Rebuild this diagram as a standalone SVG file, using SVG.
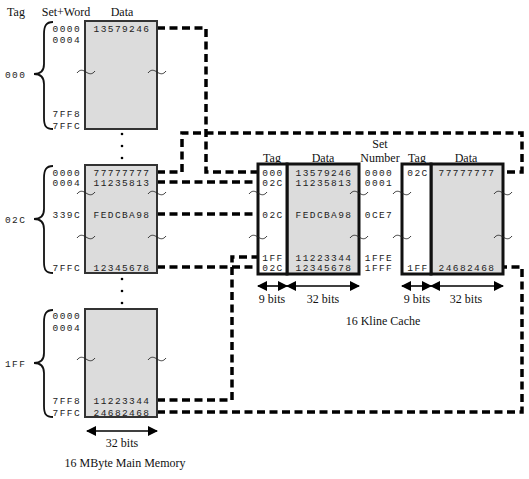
<svg xmlns="http://www.w3.org/2000/svg" width="529" height="479" viewBox="0 0 529 479">
<style>
.hex{font-family:"Liberation Mono","DejaVu Sans Mono",monospace;font-size:9.5px;letter-spacing:1.4px;fill:#222}
.lbl{font-family:"Liberation Serif","Times New Roman",serif;font-size:12px;fill:#111}
.mem{fill:#dcdcdc;stroke:#333;stroke-width:2}
.ctag{fill:#fff;stroke:#111;stroke-width:3}
.cdat{fill:#dcdcdc;stroke:#111;stroke-width:3}
.dash{fill:none;stroke:#000;stroke-width:3.5;stroke-dasharray:8 4.5}
.brace{fill:none;stroke:#111;stroke-width:1.8}
.til{fill:none;stroke:#222;stroke-width:0.9}
.arr{stroke:#000;stroke-width:1.6;marker-start:url(#ah);marker-end:url(#ah)}
</style>
<defs>
<marker id="ah" viewBox="0 0 10 10" refX="9" refY="5" markerWidth="10" markerHeight="10" markerUnits="userSpaceOnUse" orient="auto-start-reverse">
<path d="M0,0 L10,5 L0,10 z" fill="#000"/>
</marker>
<path id="tl" class="til" d="M-9,1 C-6,-3 -3,-2 0,0 S6,3 9,-1"/>
</defs>

<g id="headers">
<text class="lbl" x="16" y="16" text-anchor="middle">Tag</text>
<text class="lbl" x="66" y="16" text-anchor="middle">Set+Word</text>
<text class="lbl" x="122" y="16" text-anchor="middle">Data</text>
</g>

<g id="connectors">
<path class="dash" d="M157,28 H206 V172 H258"/>
<path class="dash" d="M157,172 H182 V133 H522 V172 H503"/>
<path class="dash" d="M157,182 H258"/>
<path class="dash" d="M157,214 H258"/>
<path class="dash" d="M157,267 H258"/>
<path class="dash" d="M157,400 H232 V257 H258"/>
<path class="dash" d="M157,412 H522 V267 H503"/>
</g>

<g id="mem-block-000">
<rect class="mem" x="85" y="21" width="72" height="108"/>
<path class="brace" d="M53,22 C46,22 44,26 44,34 L44,64 C44,70 41,74 34,74 C41,74 44,78 44,84 L44,118 C44,126 46,129 53,129"/>
<text class="hex" x="5" y="78">000</text>
<text class="hex" x="81" y="31.5" text-anchor="end">0000</text>
<text class="hex" x="81" y="42.5" text-anchor="end">0004</text>
<text class="hex" x="81" y="117" text-anchor="end">7FF8</text>
<text class="hex" x="81" y="129" text-anchor="end">7FFC</text>
<text class="hex" x="122" y="31.5" text-anchor="middle">13579246</text>
<use href="#tl" x="86" y="72"/>
<use href="#tl" x="157" y="72"/>
</g>

<g id="dots">
<circle cx="122" cy="134" r="1.3"/>
<circle cx="122" cy="146" r="1.3"/>
<circle cx="122" cy="158" r="1.3"/>
<circle cx="122" cy="279" r="1.3"/>
<circle cx="122" cy="291" r="1.3"/>
<circle cx="122" cy="303" r="1.3"/>
</g>

<g id="mem-block-02C">
<rect class="mem" x="85" y="165" width="72" height="108"/>
<path class="brace" d="M53,166 C46,166 44,170 44,178 L44,209 C44,215 41,219 34,219 C41,219 44,223 44,229 L44,262 C44,270 46,273 53,273"/>
<text class="hex" x="5" y="223">02C</text>
<text class="hex" x="81" y="175.5" text-anchor="end">0000</text>
<text class="hex" x="81" y="185.5" text-anchor="end">0004</text>
<text class="hex" x="81" y="217.5" text-anchor="end">339C</text>
<text class="hex" x="81" y="270.5" text-anchor="end">7FFC</text>
<text class="hex" x="122" y="175.5" text-anchor="middle">77777777</text>
<text class="hex" x="122" y="185.5" text-anchor="middle">11235813</text>
<text class="hex" x="122" y="217.5" text-anchor="middle">FEDCBA98</text>
<text class="hex" x="122" y="270.5" text-anchor="middle">12345678</text>
<use href="#tl" x="86" y="193"/>
<use href="#tl" x="157" y="193"/>
<use href="#tl" x="86" y="237"/>
<use href="#tl" x="157" y="237"/>
</g>

<g id="mem-block-1FF">
<rect class="mem" x="85" y="309" width="72" height="108"/>
<path class="brace" d="M53,310 C46,310 44,314 44,322 L44,353 C44,359 41,363 34,363 C41,363 44,367 44,373 L44,406 C44,414 46,417 53,417"/>
<text class="hex" x="5" y="367">1FF</text>
<text class="hex" x="81" y="318.5" text-anchor="end">0000</text>
<text class="hex" x="81" y="330.5" text-anchor="end">0004</text>
<text class="hex" x="81" y="403.5" text-anchor="end">7FF8</text>
<text class="hex" x="81" y="415.5" text-anchor="end">7FFC</text>
<text class="hex" x="122" y="403.5" text-anchor="middle">11223344</text>
<text class="hex" x="122" y="415.5" text-anchor="middle">24682468</text>
<use href="#tl" x="86" y="359"/>
<use href="#tl" x="157" y="359"/>
</g>

<g id="mem-caption">
<line class="arr" x1="87" y1="431" x2="157" y2="431"/>
<text class="lbl" x="122" y="447" text-anchor="middle">32 bits</text>
<text class="lbl" x="125" y="467" text-anchor="middle">16 MByte Main Memory</text>
</g>

<g id="cache-way-1">
<rect class="cdat" x="287" y="164" width="72" height="110"/>
<rect class="ctag" x="258" y="164" width="29" height="110"/>
<text class="lbl" x="272" y="161.5" text-anchor="middle">Tag</text>
<text class="lbl" x="323" y="161.5" text-anchor="middle">Data</text>
<text class="hex" x="273" y="175.5" text-anchor="middle">000</text>
<text class="hex" x="273" y="185.5" text-anchor="middle">02C</text>
<text class="hex" x="273" y="217.5" text-anchor="middle">02C</text>
<text class="hex" x="273" y="260.5" text-anchor="middle">1FF</text>
<text class="hex" x="273" y="270.5" text-anchor="middle">02C</text>
<text class="hex" x="324" y="175.5" text-anchor="middle">13579246</text>
<text class="hex" x="324" y="185.5" text-anchor="middle">11235813</text>
<text class="hex" x="324" y="217.5" text-anchor="middle">FEDCBA98</text>
<text class="hex" x="324" y="260.5" text-anchor="middle">11223344</text>
<text class="hex" x="324" y="270.5" text-anchor="middle">12345678</text>
<use href="#tl" x="258" y="193"/>
<use href="#tl" x="359" y="193"/>
<use href="#tl" x="258" y="237"/>
<use href="#tl" x="359" y="237"/>
<line class="arr" x1="258" y1="286" x2="287" y2="286"/>
<line class="arr" x1="287" y1="286" x2="359" y2="286"/>
<text class="lbl" x="272" y="303" text-anchor="middle">9 bits</text>
<text class="lbl" x="323" y="303" text-anchor="middle">32 bits</text>
</g>

<g id="set-number">
<text class="lbl" x="380" y="147.5" text-anchor="middle">Set</text>
<text class="lbl" x="380" y="162" text-anchor="middle">Number</text>
<text class="hex" x="379" y="175.5" text-anchor="middle">0000</text>
<text class="hex" x="379" y="185.5" text-anchor="middle">0001</text>
<text class="hex" x="379" y="217.5" text-anchor="middle">0CE7</text>
<text class="hex" x="379" y="260.5" text-anchor="middle">1FFE</text>
<text class="hex" x="379" y="270.5" text-anchor="middle">1FFF</text>
</g>

<g id="cache-way-2">
<rect class="cdat" x="431" y="164" width="72" height="110"/>
<rect class="ctag" x="402" y="164" width="29" height="110"/>
<text class="lbl" x="417" y="161.5" text-anchor="middle">Tag</text>
<text class="lbl" x="466" y="161.5" text-anchor="middle">Data</text>
<text class="hex" x="418" y="175.5" text-anchor="middle">02C</text>
<text class="hex" x="467" y="175.5" text-anchor="middle">77777777</text>
<text class="hex" x="418" y="270.5" text-anchor="middle">1FF</text>
<text class="hex" x="467" y="270.5" text-anchor="middle">24682468</text>
<use href="#tl" x="402" y="193"/>
<use href="#tl" x="503" y="193"/>
<use href="#tl" x="402" y="237"/>
<use href="#tl" x="503" y="237"/>
<line class="arr" x1="402" y1="286" x2="431" y2="286"/>
<line class="arr" x1="431" y1="286" x2="503" y2="286"/>
<text class="lbl" x="417" y="303" text-anchor="middle">9 bits</text>
<text class="lbl" x="466" y="303" text-anchor="middle">32 bits</text>
</g>

<g id="cache-caption">
<text class="lbl" x="383" y="325" text-anchor="middle">16 Kline Cache</text>
</g>
</svg>
